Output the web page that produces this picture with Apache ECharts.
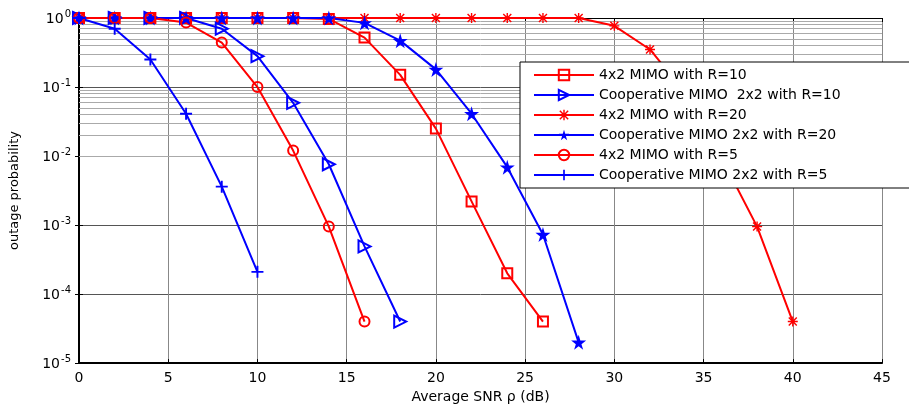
<!DOCTYPE html>
<html>
<head>
<meta charset="utf-8">
<script src="https://cdn.jsdelivr.net/npm/echarts@6/dist/echarts.min.js"></script>
<style>html,body{margin:0;padding:0;background:#fff}#c{width:909px;height:409px}</style>
</head>
<body>
<div id="c"></div>
<script>
// ---- data ----
const seriesNames = [
  '4x2 MIMO with R=10',
  'Cooperative MIMO  2x2 with R=10',
  '4x2 MIMO with R=20',
  'Cooperative MIMO 2x2 with R=20',
  '4x2 MIMO with R=5',
  'Cooperative MIMO 2x2 with R=5'
];
const snrR10mimo = [0,2,4,6,8,10,12,14,16,18,20,22,24,26];
const outR10mimo = [1,1,1,1,1,1,1,0.97,0.52,0.15,0.025,0.0022,2.0e-4,4.0e-5];
const snrR10coop = [0,2,4,6,8,10,12,14,16,18];
const outR10coop = [1,1,1,1,0.70,0.28,0.059,0.0076,4.9e-4,4.0e-5];
const snrR20mimo = [0,2,4,6,8,10,12,14,16,18,20,22,24,26,28,30,32,34,36,38,40];
const outR20mimo = [1,1,1,1,1,1,1,1,1,1,1,1,1,1,1,0.77,0.35,0.08,0.0095,9.5e-4,4.0e-5];
const snrR20coop = [0,2,4,6,8,10,12,14,16,18,20,22,24,26,28];
const outR20coop = [1,1,1,1,1,1,1,1,0.85,0.47,0.18,0.041,0.0069,7.3e-4,2.0e-5];
const snrR5mimo = [0,2,4,6,8,10,12,14,16];
const outR5mimo = [1,1,1,0.86,0.44,0.10,0.012,9.5e-4,4.0e-5];
const snrR5coop = [0,2,4,6,8,10];
const outR5coop = [1,0.70,0.25,0.041,0.0036,2.1e-4];
const xTicks = [0,5,10,15,20,25,30,35,40,45];
const yDecades = [1e-5,1e-4,1e-3,1e-2,1e-1,1];

// ---- helpers ----
const RED = '#ff0000', BLUE = '#0000ff';
const FONT = 'DejaVu Sans';
function zip(xs, ys){ return xs.map((x,i)=>[x, ys[i]]); }
const minorLines = [];
for (let d = 0; d < yDecades.length - 1; d++) {
  for (let k = 2; k <= 9; k++) minorLines.push({yAxis: k * yDecades[d]});
}
const SYM_PLUS = 'path://M4.2,0H5.8V10H4.2Z M0,4.2H10V5.8H0Z';
const SYM_AST = 'path://M4.3,0H5.7V10H4.3Z M0,4.3H10V5.7H0Z M1.5,0.5L9.5,8.5L8.5,9.5L0.5,1.5Z M8.5,0.5L9.5,1.5L1.5,9.5L0.5,8.5Z';
const SYM_STAR = 'path://M50,0 L61,35 L98,35 L68,57 L79,91 L50,70 L21,91 L32,57 L2,35 L39,35 Z';
const SYM_TRI = 'path://M0,0 L10,5 L0,10 Z';

function mk(name, xs, ys, color, symbol, size, hollow){
  return {
    name, type:'line', data: zip(xs, ys), clip:false, z: 5,
    symbol, symbolSize: size, showAllSymbol: true,
    lineStyle:{color, width:2},
    itemStyle: hollow ? {color:'rgba(255,255,255,0)', borderColor:color, borderWidth:2}
                      : {color, borderColor:color, borderWidth:0},
    emphasis:{disabled:true}
  };
}

const chart = echarts.init(document.getElementById('c'), null, {renderer:'canvas'});
const labelStyle = {color:'#000', fontFamily:FONT, fontSize:14};
chart.setOption({
  animation:false,
  backgroundColor:'#fff',
  grid:{left:76, right:27, top:18, bottom:42},
  legend:{
    orient:'vertical', left:520, top:62, z:20,
    data: seriesNames,
    itemWidth:60, itemHeight:13, itemGap:6,
    padding:[6,75,6,13],
    backgroundColor:'#fff', borderColor:'#000', borderWidth:1,
    textStyle:{color:'#000', fontFamily:FONT, fontSize:14},
    selectedMode:false
  },
  xAxis:[{
    type:'value', min:0, max:45, interval:5,
    name:'Average SNR \u03c1 (dB)', nameLocation:'middle', nameGap:25,
    nameTextStyle:{color:'#000', fontFamily:FONT, fontSize:14},
    axisLine:{show:true, lineStyle:{color:'#000', width:2}},
    axisTick:{show:true, inside:true, length:4, lineStyle:{color:'#000'}},
    axisLabel:Object.assign({margin:8}, labelStyle),
    splitLine:{show:true, lineStyle:{color:'#888', type:'solid', width:1}}
  },{
    type:'value', min:0, max:45, interval:5, position:'top',
    axisLine:{show:true, lineStyle:{color:'#000', width:1}},
    axisTick:{show:true, inside:true, length:4, lineStyle:{color:'#000'}},
    axisLabel:{show:false}, splitLine:{show:false}
  }],
  yAxis:[{
    type:'log', logBase:10, min:1e-5, max:1,
    name:'outage probability', nameLocation:'middle', nameGap:58,
    nameTextStyle:{color:'#000', fontFamily:FONT, fontSize:13},
    axisLine:{show:true, lineStyle:{color:'#000', width:2}},
    axisTick:{show:true, inside:true, length:4, lineStyle:{color:'#000'}},
    axisLabel:{
      margin:8,
      formatter:function(v){ const e = Math.round(Math.log10(v)); return '{b|10}{s|' + e + '}'; },
      rich:{
        b:{color:'#000', fontFamily:FONT, fontSize:14, lineHeight:16, verticalAlign:'bottom'},
        s:{color:'#000', fontFamily:FONT, fontSize:10, lineHeight:10, verticalAlign:'bottom', padding:[0,0,7,1]}
      }
    },
    splitLine:{show:true, lineStyle:{color:'#555', type:'solid', width:1}}
  },{
    type:'log', logBase:10, min:1e-5, max:1, position:'right',
    axisLine:{show:true, lineStyle:{color:'#000', width:1}},
    axisTick:{show:true, inside:true, length:4, lineStyle:{color:'#000'}},
    axisLabel:{show:false}, splitLine:{show:false}
  }],
  series:[
    {
      name:'minor-grid', type:'line', data:[], z:1, silent:true,
      markLine:{silent:true, symbol:['none','none'], label:{show:false},
        lineStyle:{color:'#aaa', type:'solid', width:1}, animation:false,
        data:minorLines}
    },
    mk(seriesNames[0], snrR10mimo, outR10mimo, RED, 'rect', 10, true),
    mk(seriesNames[1], snrR10coop, outR10coop, BLUE, SYM_TRI, 12, true),
    mk(seriesNames[2], snrR20mimo, outR20mimo, RED, SYM_AST, 10, false),
    mk(seriesNames[3], snrR20coop, outR20coop, BLUE, SYM_STAR, 15, false),
    mk(seriesNames[4], snrR5mimo, outR5mimo, RED, 'circle', 10, true),
    mk(seriesNames[5], snrR5coop, outR5coop, BLUE, SYM_PLUS, 12, false)
  ]
});
</script>
</body>
</html>
